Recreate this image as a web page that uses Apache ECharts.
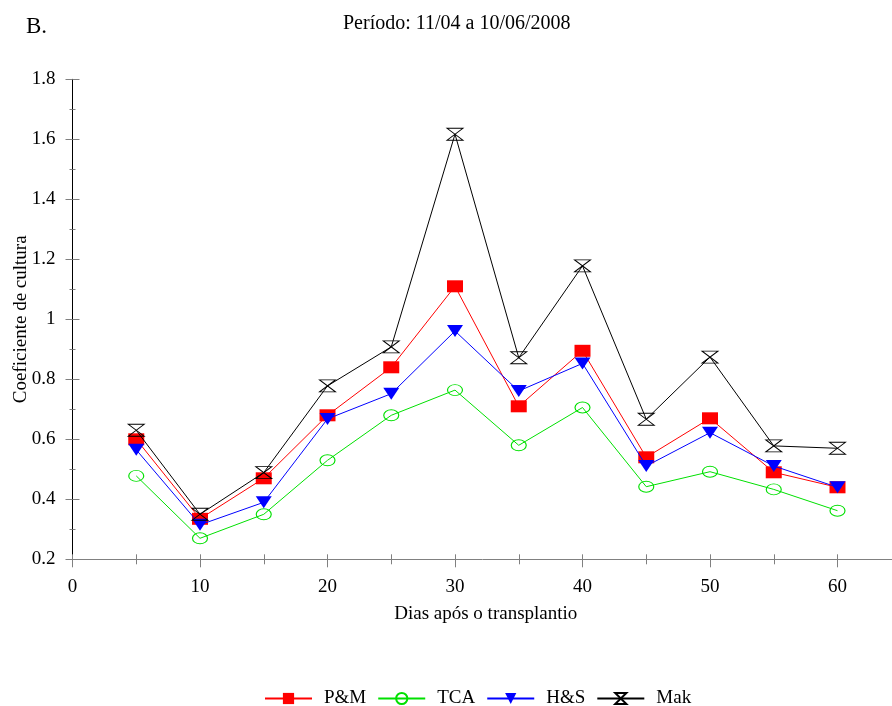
<!DOCTYPE html>
<html>
<head>
<meta charset="utf-8">
<script src="https://cdn.jsdelivr.net/npm/echarts@6/dist/echarts.min.js"></script>
<style>
  html, body { margin: 0; padding: 0; background: #fff; }
  #chart { width: 892px; height: 706px; }
</style>
</head>
<body>
<div id="chart"></div>
<script>
// dias após o transplantio
const days = [5, 10, 15, 20, 25, 30, 35, 40, 45, 50, 55, 60]

// coeficiente de cultura por método
const pmValues = [0.60, 0.335, 0.47, 0.68, 0.84, 1.11, 0.71, 0.895, 0.54, 0.67, 0.49, 0.44]
const tcaValues = [0.478, 0.27, 0.35, 0.53, 0.68, 0.764, 0.58, 0.706, 0.442, 0.492, 0.433, 0.362]
const hsValues = [0.565, 0.315, 0.39, 0.668, 0.752, 0.961, 0.761, 0.853, 0.511, 0.622, 0.511, 0.44]
const makValues = [0.63, 0.35, 0.489, 0.778, 0.908, 1.617, 0.872, 1.178, 0.667, 0.874, 0.578, 0.57]

const seriesNames = ['P&M', 'TCA', 'H&S', 'Mak']

const font = '"Liberation Serif", "Times New Roman", serif'
const hourglass = 'path://M0,0 L10,0 L0,10 L10,10 Z'

const pairs = vals => days.map((d, i) => [d, vals[i]])

const chart = echarts.init(document.getElementById('chart'))

const baseX = {
  type: 'value',
  min: 0,
  max: 70,
  interval: 10,
  splitLine: { show: false }
}
const baseY = {
  type: 'value',
  min: 0.2,
  max: 1.8,
  interval: 0.2,
  splitLine: { show: false }
}

chart.setOption({
  animation: false,
  textStyle: { fontFamily: font },
  title: [
    {
      text: 'Período: 11/04 a 10/06/2008',
      left: 338,
      top: 9,
      textStyle: { fontFamily: font, fontSize: 20, fontWeight: 'normal', color: '#000' }
    },
    {
      text: 'B.',
      left: 21,
      top: 10,
      textStyle: { fontFamily: font, fontSize: 23, fontWeight: 'normal', color: '#000' }
    }
  ],
  grid: {
    left: 72.5,
    right: -73,
    top: 79.3,
    bottom: 146.7,
    containLabel: false,
    outerBoundsMode: 'none'
  },
  legend: {
    data: seriesNames,
    left: 264,
    top: 689,
    padding: 0,
    itemWidth: 47,
    itemHeight: 14,
    itemGap: 11,
    textStyle: {
      fontFamily: font,
      fontSize: 19,
      color: '#000',
      width: 44,
      padding: [0, 0, 0, 7]
    }
  },
  xAxis: [
    Object.assign({}, baseX, {
      name: 'Dias após o transplantio',
      nameLocation: 'middle',
      nameGap: 45,
      nameMoveOverlap: false,
      nameTextStyle: { fontFamily: font, fontSize: 19, color: '#000', padding: [0, 66, 0, 0] },
      axisLine: { onZero: false, lineStyle: { color: '#808080', width: 1 } },
      axisTick: { length: 8, lineStyle: { color: '#808080' } },
      minorTick: { show: true, splitNumber: 2, length: 5, lineStyle: { color: '#808080' } },
      axisLabel: { fontFamily: font, fontSize: 19, color: '#000', margin: 18, showMaxLabel: false }
    }),
    Object.assign({}, baseX, {
      position: 'bottom',
      axisLine: { show: false },
      axisTick: { inside: true, length: 5, lineStyle: { color: '#808080' } },
      minorTick: { show: true, splitNumber: 2, length: 5, lineStyle: { color: '#808080' } },
      axisLabel: { show: false }
    })
  ],
  yAxis: [
    Object.assign({}, baseY, {
      name: 'Coeficiente de cultura',
      nameLocation: 'middle',
      nameGap: 42,
      nameMoveOverlap: false,
      nameTextStyle: { fontFamily: font, fontSize: 19, color: '#000' },
      axisLine: { show: true, onZero: false, lineStyle: { color: '#000', width: 1 } },
      axisTick: { show: true, length: 7, lineStyle: { color: '#808080' } },
      minorTick: { show: true, splitNumber: 2, length: 3, lineStyle: { color: '#808080' } },
      axisLabel: { fontFamily: font, fontSize: 19, color: '#000', margin: 17 }
    }),
    Object.assign({}, baseY, {
      position: 'left',
      axisLine: { show: false },
      axisTick: { show: true, inside: true, length: 7, lineStyle: { color: '#808080' } },
      minorTick: { show: true, splitNumber: 2, length: 3, lineStyle: { color: '#808080' } },
      axisLabel: { show: false }
    })
  ],
  series: [
    {
      name: 'P&M',
      type: 'line',
      data: pairs(pmValues),
      symbol: 'rect',
      symbolSize: [16, 12],
      itemStyle: { color: '#ff0000' },
      lineStyle: { color: '#ff0000', width: 1 },
      z: 3
    },
    {
      name: 'TCA',
      type: 'line',
      data: pairs(tcaValues),
      symbol: 'circle',
      symbolSize: [15, 11],
      itemStyle: { color: 'rgba(0,0,0,0)', borderColor: '#00e000', borderWidth: 1 },
      lineStyle: { color: '#00e000', width: 1 },
      z: 2
    },
    {
      name: 'H&S',
      type: 'line',
      data: pairs(hsValues),
      symbol: 'triangle',
      symbolRotate: 180,
      symbolSize: [16, 12],
      itemStyle: { color: '#0000ff' },
      lineStyle: { color: '#0000ff', width: 1 },
      z: 4
    },
    {
      name: 'Mak',
      type: 'line',
      data: pairs(makValues),
      symbol: hourglass,
      symbolSize: [16, 12],
      itemStyle: { color: 'rgba(0,0,0,0)', borderColor: '#000', borderWidth: 1 },
      lineStyle: { color: '#000', width: 1 },
      z: 5
    }
  ]
})
</script>
</body>
</html>
